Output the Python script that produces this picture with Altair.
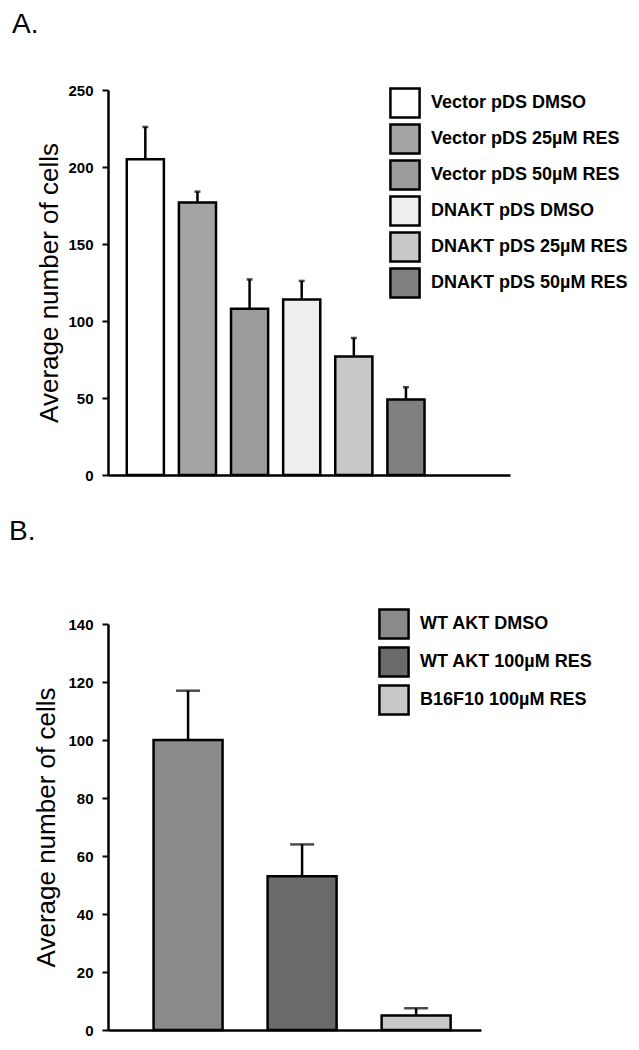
import altair as alt
import pandas as pd

# ---- data ----
cats_a = ["Vector pDS DMSO", "Vector pDS 25µM RES", "Vector pDS 50µM RES",
          "DNAKT pDS DMSO", "DNAKT pDS 25µM RES", "DNAKT pDS 50µM RES"]
means_a = [205, 177, 108, 114, 77, 49]
errs_a = [21, 7, 19, 12, 12, 8]
fills_a = ["#ffffff", "#a4a4a4", "#9c9c9c", "#eeeeee", "#c8c8c8", "#808080"]

cats_b = ["WT AKT DMSO", "WT AKT 100µM RES", "B16F10 100µM RES"]
means_b = [100, 53, 5]
errs_b = [17, 11, 2.5]
fills_b = ["#8a8a8a", "#6a6a6a", "#c8c8c8"]

FONT = "Liberation Sans"

df_a = pd.DataFrame({"cat": cats_a, "mean": means_a, "err": errs_a})
df_a["upper"] = df_a["mean"] + df_a["err"]
df_b = pd.DataFrame({"cat": cats_b, "mean": means_b, "err": errs_b})
df_b["upper"] = df_b["mean"] + df_b["err"]


def panel(df, cats, fills, ymax, ystep, width, height, pi, po, align,
          cap, label, legx, legy, rowpad, title_dx, title_off, tpad):
    xscale = alt.Scale(domain=cats, paddingInner=pi, paddingOuter=po, align=align)
    x = alt.X("cat:N", scale=xscale, sort=cats,
              axis=alt.Axis(labels=False, ticks=False, title=None,
                            domainColor="black", domainWidth=2.5))
    yscale = alt.Scale(domain=[0, ymax], nice=False)
    yaxis = alt.Axis(values=list(range(0, ymax + 1, ystep)), title="Average number of cells",
                     labelFont=FONT, labelFontWeight="bold", labelFontSize=15,
                     labelColor="black", labelPadding=9, tickSize=6, tickWidth=2,
                     tickColor="black", domainColor="black", domainWidth=2.5,
                     grid=False, titleFont=FONT, titleFontSize=26,
                     titleFontWeight="normal", titleColor="black", titlePadding=tpad)
    bars = alt.Chart(df).mark_bar(stroke="black", strokeWidth=2.5).encode(
        x=x,
        y=alt.Y("mean:Q", scale=yscale, axis=yaxis),
        fill=alt.Fill("cat:N", sort=cats,
                      scale=alt.Scale(domain=cats, range=fills),
                      legend=alt.Legend(orient="none", legendX=legx, legendY=legy,
                                        title=None, symbolType="square",
                                        symbolSize=850, symbolStrokeColor="black",
                                        symbolStrokeWidth=2.5, symbolOpacity=1,
                                        labelFont=FONT, labelFontWeight="bold",
                                        labelFontSize=18, labelColor="black",
                                        labelOffset=10, rowPadding=rowpad,
                                        padding=0, labelLimit=400)),
    )
    err = alt.Chart(df).mark_rule(color="black", strokeWidth=2.5).encode(
        x=alt.X("cat:N", scale=xscale, sort=cats),
        y="mean:Q", y2="upper:Q")
    caps = alt.Chart(df).mark_tick(color="black", thickness=2.5, size=cap).encode(
        x=alt.X("cat:N", scale=xscale, sort=cats),
        y="upper:Q")
    return alt.layer(bars, err, caps).properties(
        width=width, height=height,
        title=alt.TitleParams(label, anchor="start", frame="bounds", font=FONT,
                              fontSize=28, fontWeight="normal", color="black",
                              dx=title_dx, offset=title_off))


pa = panel(df_a, cats_a, fills_a, 250, 50, 402, 385, 0.288, 1.0, 0.18,
           6, "A.", 281, -3, -5.4, -25, 44, 5)
pb = panel(df_b, cats_b, fills_b, 140, 20, 373, 406, 0.395, 0.333, 0.6,
           24, "B.", 270, -16, -2, -25, 62, 8)

chart = alt.vconcat(pa, pb, spacing=35).resolve_scale(
    x="independent", y="independent", fill="independent"
).resolve_legend(fill="independent").properties(
    padding={"left": 0, "top": 3, "right": 0, "bottom": 0},
    background="white"
).configure_view(stroke="transparent", strokeWidth=0).configure_axis(
    domainColor="black", tickColor="black", labelColor="black", titleColor="black"
)

chart.save("out.html", embed_options={"renderer": "svg", "actions": False})
